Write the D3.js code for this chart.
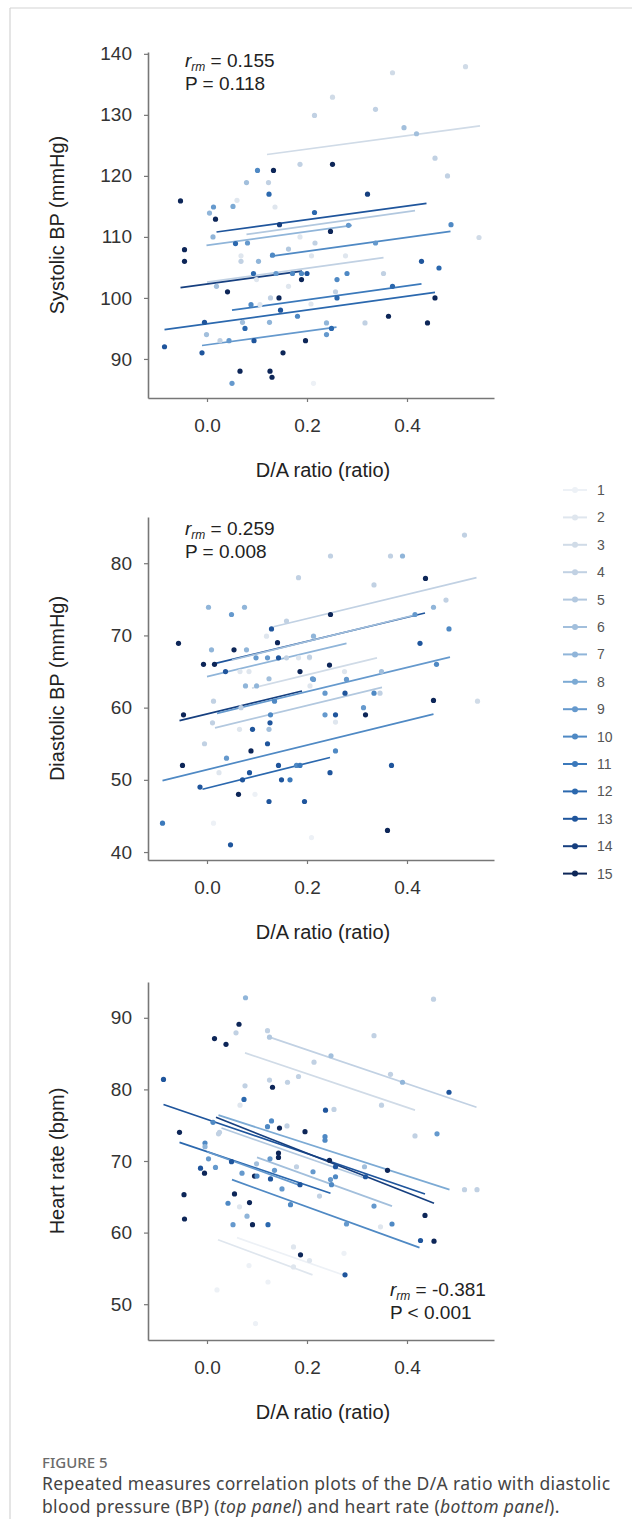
<!DOCTYPE html>
<html>
<head>
<meta charset="utf-8">
<script src="https://cdn.jsdelivr.net/npm/d3@7"></script>
<style>
  body { margin: 0; background: #fff; }
  svg text { font-family: "Liberation Sans", Arial, sans-serif; }
  svg text.caption { font-family: "Noto Sans", "Open Sans", sans-serif; }
</style>
</head>
<body>
<svg id="fig" width="641" height="1519"></svg>
<script>
// ---- data ----
const subjects = d3.range(1, 16);
const xTickValues = [0.0, 0.2, 0.4];
const sbpTicks = [90, 100, 110, 120, 130, 140];
const dbpTicks = [40, 50, 60, 70, 80];
const hrTicks = [50, 60, 70, 80, 90];

// [subject, D/A ratio, value]
const sbpPoints = [
  [15,-0.053,115.9],[7,0.005,113.9],[9,0.013,114.9],[15,0.017,112.9],[8,0.052,115],[2,0.06,116],
  [6,0.079,118.9],[10,0.101,120.9],[4,0.123,118.9],[15,0.133,120.9],[12,0.124,117],[2,0.136,114.9],
  [14,0.145,112],[12,0.215,114],[4,0.186,121.9],[4,0.215,129.9],[3,0.251,132.9],[3,0.371,136.9],
  [3,0.517,137.9],[4,0.337,130.9],[6,0.394,127.9],[6,0.419,126.9],[4,0.456,122.9],[4,0.481,120],
  [15,0.251,121.9],[14,0.321,117],[10,0.488,112],[9,0.283,111.9],[15,0.247,110.9],[3,0.544,109.9],
  [4,0.216,109],[9,0.337,109],[2,0.209,106.9],[2,0.277,106.9],[13,0.429,106],[12,0.464,104.9],
  [10,0.189,104],[15,0.189,103],[10,0.26,103],[10,0.28,104],[4,0.353,104],[12,0.371,101.9],
  [12,0.26,100],[4,0.257,101],[15,0.456,100],[2,0.208,99],[15,0.363,97],[15,0.441,95.9],
  [7,0.239,95.9],[4,0.316,95.9],[12,0.249,95],[9,0.239,94],[15,0.197,93],[1,0.213,86],
  [15,-0.045,107.9],[15,-0.045,106],[7,0.012,110],[12,0.057,108.9],[9,0.081,109],[2,0.068,106.9],
  [4,0.068,106],[7,0.103,106],[10,0.131,107],[2,0.186,110],[5,0.163,108],[12,0.093,104],
  [9,0.138,104],[10,0.171,104],[13,0.2,104],[6,0.019,101.9],[2,0.099,103],[2,0.163,101.9],
  [15,0.041,101],[10,0.088,98.9],[4,0.127,100],[15,0.144,100],[13,0.147,98],[10,0.181,97],
  [2,0.106,98.9],[13,-0.005,96],[6,0.071,96],[12,0.076,95],[7,0.125,96],[6,-0.001,94],
  [4,0.026,93],[9,0.044,93],[13,0.094,93],[13,-0.085,92],[13,-0.01,91],[15,0.152,91],
  [15,0.066,88],[15,0.126,88],[15,0.13,87],[9,0.05,86]
];
// [subject, x start, y start, x end, y end]
const sbpFits = [
  [3,0.12,123.5,0.546,128.2],[13,0.019,110.8,0.439,115.5],[5,0.079,110.4,0.416,114.3],
  [7,-0.001,108.6,0.29,111.9],[10,0.126,106.8,0.487,110.9],[4,0.0,102.6,0.353,106.6],
  [14,-0.053,101.7,0.19,104.4],[11,0.05,98.0,0.429,102.3],[12,-0.085,94.8,0.456,100.9],
  [9,-0.01,92.2,0.259,95.2]
];

const dbpPoints = [
  [15,-0.057,68.9],[7,0.003,73.9],[9,0.049,72.9],[7,0.075,73.9],[4,0.183,78],[4,0.159,72],
  [13,0.129,70.9],[2,0.119,69.9],[15,0.141,69],[7,0.009,68],[15,0.054,68],[7,0.079,68],
  [15,-0.007,66],[15,0.015,66],[9,0.098,66.9],[9,0.121,66.9],[13,0.143,66.9],[4,0.159,66.9],
  [2,0.183,66.9],[2,0.205,66.9],[13,0.037,65],[2,0.066,65],[2,0.084,65],[15,0.186,65],
  [9,0.211,64],[6,0.124,64],[7,0.077,63],[7,0.099,63],[2,0.206,63],[4,0.515,83.9],
  [4,0.247,81],[4,0.367,81],[7,0.391,81],[15,0.437,77.9],[4,0.334,77],[4,0.478,74.9],
  [7,0.453,73.9],[15,0.247,72.9],[9,0.416,72.9],[10,0.484,70.9],[13,0.426,68.9],[7,0.213,69.9],
  [4,0.205,67],[15,0.245,65.9],[2,0.275,65],[6,0.349,65],[9,0.213,63.9],[9,0.279,63.9],
  [9,0.236,62],[13,0.276,62],[10,0.334,62],[4,0.346,62],[10,0.459,66],[4,0.013,60.9],
  [4,0.068,60],[10,0.135,60.9],[15,-0.047,59],[4,0.011,57.9],[10,0.127,59],[13,0.126,57.9],
  [2,0.065,57],[13,0.091,57],[6,0.124,57],[4,-0.005,55],[13,0.121,55],[15,0.088,54],
  [9,0.039,53],[15,-0.049,52],[13,0.143,52],[10,0.179,52],[11,0.186,52],[2,0.024,51],
  [13,0.085,51],[13,-0.014,49],[13,0.071,50],[13,0.149,50],[11,0.166,50],[15,0.063,48],
  [1,0.096,48],[13,0.124,47],[13,0.195,47],[11,-0.089,44],[1,0.013,44],[13,0.047,41],
  [1,0.209,42],[15,0.453,61],[3,0.541,60.9],[9,0.236,59],[13,0.257,59],[9,0.313,60],
  [15,0.317,59],[2,0.257,58],[10,0.257,54],[13,0.369,52],[13,0.246,51],[15,0.361,43]
];
const dbpFits = [
  [4,0.133,71.2,0.539,78.0],[13,0.015,66.1,0.436,73.1],[6,0.05,66.6,0.42,72.9],
  [7,0.0,64.3,0.279,68.9],[14,-0.055,58.2,0.19,62.3],[5,0.016,57.2,0.35,62.8],
  [9,0.02,59.2,0.486,67.0],[3,0.09,62.7,0.34,66.9],[10,-0.089,49.9,0.453,59.1],
  [12,-0.009,48.7,0.246,53.1]
];

const hrPoints = [
  [13,-0.087,81.4],[7,0.077,92.8],[15,0.064,89.1],[4,0.058,87.9],[15,0.015,87.1],[15,0.038,86.3],
  [4,0.121,88.2],[5,0.125,87.3],[4,0.214,83.8],[4,0.076,80.5],[4,0.125,81.3],[15,0.131,80.3],
  [4,0.161,81],[4,0.183,81.8],[12,0.074,78.6],[2,0.066,77.8],[10,0.012,75.4],[15,-0.055,74],
  [10,0.129,75.6],[10,0.121,74.8],[15,0.145,74.6],[4,0.16,74.9],[15,0.196,74.1],[4,0.025,74],
  [10,-0.004,72.5],[4,0.453,92.6],[4,0.334,87.5],[6,0.248,84.7],[4,0.367,82.1],[7,0.391,81],
  [13,0.484,79.6],[4,0.349,77.8],[13,0.237,77.1],[4,0.254,77.2],[4,0.416,73.5],[9,0.46,73.8],
  [10,0.236,73.4],[15,-0.046,65.3],[15,-0.045,61.9],[13,-0.013,69],[15,-0.005,68.3],[7,-0.004,72],
  [9,0.003,70.3],[9,0.017,69.1],[4,0.023,73.8],[13,0.049,69.9],[15,0.055,65.4],[10,0.042,64.1],
  [9,0.052,61.1],[9,0.07,68.3],[2,0.065,63.6],[7,0.08,62.3],[15,0.085,64.2],[15,0.091,61.1],
  [15,0.095,67.9],[10,0.1,67.9],[6,0.099,69.6],[12,0.122,61.1],[9,0.126,70.3],[13,0.127,67.5],
  [15,0.143,71.1],[15,0.143,70.5],[9,0.135,68.7],[9,0.15,66.1],[10,0.167,63.9],[4,0.179,69.2],
  [13,0.186,66.7],[15,0.187,56.9],[9,0.212,68.5],[10,0.236,72.9],[15,0.245,70.1],[9,0.247,67.4],
  [10,0.249,66.7],[10,0.257,67.8],[13,0.257,69.2],[4,0.225,65.1],[13,0.276,54.1],[9,0.279,61.2],
  [1,0.274,57.1],[6,0.315,69.2],[13,0.317,67.8],[9,0.334,63.7],[15,0.361,68.7],[10,0.37,61.2],
  [15,0.436,62.4],[13,0.427,58.9],[15,0.454,58.8],[4,0.515,66],[4,0.54,66],[1,0.02,52],
  [1,0.097,47.3],[1,0.122,53.1],[1,0.084,55.4],[2,0.173,58],[2,0.173,55.2],[2,0.205,56.1],
  [2,0.347,60.8]
];
const hrFits = [
  [4,0.125,87.3,0.539,77.5],[3,0.076,85.1,0.416,77.1],[13,-0.087,77.9,0.436,65.4],
  [14,0.018,76.1,0.454,64.1],[8,0.023,76.4,0.485,66.0],[12,-0.055,72.6,0.247,65.5],
  [9,0.0,71.3,0.186,66.6],[5,0.029,74.6,0.317,67.6],[10,0.05,67.4,0.425,57.9],
  [6,0.1,70.5,0.37,63.7],[2,0.022,59.0,0.211,54.1],[1,0.06,59.3,0.28,53.9]
];

const statR = ['0.155', '0.259', '-0.381'];
const statP = ['P = 0.118', 'P = 0.008', 'P < 0.001'];
const yTitles = ['Systolic BP (mmHg)', 'Diastolic BP (mmHg)', 'Heart rate (bpm)'];
const xTitle = 'D/A ratio (ratio)';

// ---- drawing ----
const subjectColors = ['#edf1f6','#dfe6ee','#d0dbe7','#c1d1e3','#b2c8df','#a2bfdc','#90b5d9',
  '#7caad4','#6599cd','#4f89c4','#3b79bb','#2b68ae','#1f559c','#163f7f','#0d2658'];
const color = d3.scaleOrdinal().domain(subjects).range(subjectColors);

const svg = d3.select('#fig');

// frame
svg.append('line').attr('x1', 10).attr('x2', 10).attr('y1', 8).attr('y2', 1519)
  .attr('stroke', '#d4d4d4').attr('stroke-width', 1.2);
svg.append('line').attr('x1', 10).attr('x2', 632).attr('y1', 8).attr('y2', 8)
  .attr('stroke', '#d4d4d4').attr('stroke-width', 1.2);

const x = d3.scaleLinear().domain([-0.118, 0.574]).range([148, 494]);

const panels = [
  {points: sbpPoints, fits: sbpFits, ticks: sbpTicks, domain: [83.6, 140.3], top: 52, bottom: 398,
   stat: {x: 185, y: 67}},
  {points: dbpPoints, fits: dbpFits, ticks: dbpTicks, domain: [38.9, 86.4], top: 517, bottom: 860,
   stat: {x: 185, y: 535}},
  {points: hrPoints, fits: hrFits, ticks: hrTicks, domain: [45, 95], top: 982, bottom: 1340,
   stat: {x: 390, y: 1296}}
];

panels.forEach((p, i) => {
  const y = d3.scaleLinear().domain(p.domain).range([p.bottom, p.top]);
  const g = svg.append('g');

  // per-subject fit lines
  g.selectAll('.fit')
    .data(p.fits)
    .enter().append('line')
      .attr('class', 'fit')
      .attr('x1', d => x(d[1])).attr('y1', d => y(d[2]))
      .attr('x2', d => x(d[3])).attr('y2', d => y(d[4]))
      .attr('stroke', d => color(d[0]))
      .attr('stroke-width', 1.7);

  // observations
  g.selectAll('.pt')
    .data(p.points)
    .enter().append('circle')
      .attr('class', 'pt')
      .attr('cx', d => x(d[1]))
      .attr('cy', d => y(d[2]))
      .attr('r', 2.6)
      .attr('fill', d => color(d[0]));

  // axes
  const yAxis = g.append('g')
    .attr('transform', `translate(${x.range()[0]},0)`)
    .call(d3.axisLeft(y).tickValues(p.ticks).tickSize(4).tickSizeOuter(0).tickPadding(12));
  const xAxis = g.append('g')
    .attr('transform', `translate(0,${p.bottom})`)
    .call(d3.axisBottom(x).tickValues(xTickValues).tickFormat(d3.format('.1f'))
      .tickSize(4).tickSizeOuter(0).tickPadding(17));
  [yAxis, xAxis].forEach(a => {
    a.select('.domain').attr('stroke', '#777').attr('stroke-width', 1.6);
    a.selectAll('.tick line').attr('stroke', '#777').attr('stroke-width', 1.2);
    a.selectAll('.tick text').attr('fill', '#333').style('font-size', '19px');
  });

  // axis titles
  g.append('text')
    .attr('transform', `translate(64,${(p.top + p.bottom) / 2}) rotate(-90)`)
    .attr('text-anchor', 'middle')
    .attr('fill', '#222')
    .style('font-size', '20px')
    .text(yTitles[i]);
  g.append('text')
    .attr('x', 323)
    .attr('y', p.bottom + 79)
    .attr('text-anchor', 'middle')
    .attr('fill', '#222')
    .style('font-size', '20px')
    .text(xTitle);

  // r_rm / P annotation
  const t = g.append('text')
    .attr('x', p.stat.x).attr('y', p.stat.y)
    .attr('fill', '#222').style('font-size', '19px');
  t.append('tspan').style('font-style', 'italic').text('r');
  t.append('tspan').style('font-style', 'italic').style('font-size', '12px')
    .attr('dy', 4).text('rm');
  t.append('tspan').attr('dy', -4).text(' = ' + statR[i]);
  g.append('text')
    .attr('x', p.stat.x).attr('y', p.stat.y + 23)
    .attr('fill', '#222').style('font-size', '19px')
    .text(statP[i]);
});

// legend
const legend = svg.append('g')
  .selectAll('g')
  .data(subjects)
  .enter().append('g')
    .attr('transform', (d, i) => `translate(563,${490 + i * 27.4})`);
legend.append('line')
  .attr('x1', 0).attr('x2', 24)
  .attr('stroke', d => color(d)).attr('stroke-width', 2);
legend.append('circle')
  .attr('cx', 12).attr('r', 3)
  .attr('fill', d => color(d));
legend.append('text')
  .attr('x', 34).attr('dy', '0.36em')
  .attr('fill', '#555')
  .style('font-size', '14px')
  .text(d => d);

// caption
svg.append('text')
  .attr('class', 'caption')
  .attr('x', 42).attr('y', 1468)
  .attr('fill', '#6b6b6b')
  .style('font-size', '15px')
  .style('font-weight', 500)
  .text('FIGURE 5');
svg.append('text')
  .attr('class', 'caption')
  .attr('x', 42).attr('y', 1490)
  .attr('fill', '#444')
  .style('font-size', '17.5px')
  .style('letter-spacing', '0.35px')
  .text('Repeated measures correlation plots of the D/A ratio with diastolic');
const cap2 = svg.append('text')
  .attr('class', 'caption')
  .attr('x', 42).attr('y', 1513)
  .attr('fill', '#444')
  .style('font-size', '17.5px')
  .style('letter-spacing', '0.35px');
cap2.append('tspan').text('blood pressure (BP) (');
cap2.append('tspan').style('font-style', 'italic').text('top panel');
cap2.append('tspan').text(') and heart rate (');
cap2.append('tspan').style('font-style', 'italic').text('bottom panel');
cap2.append('tspan').text(').');
</script>
</body>
</html>
